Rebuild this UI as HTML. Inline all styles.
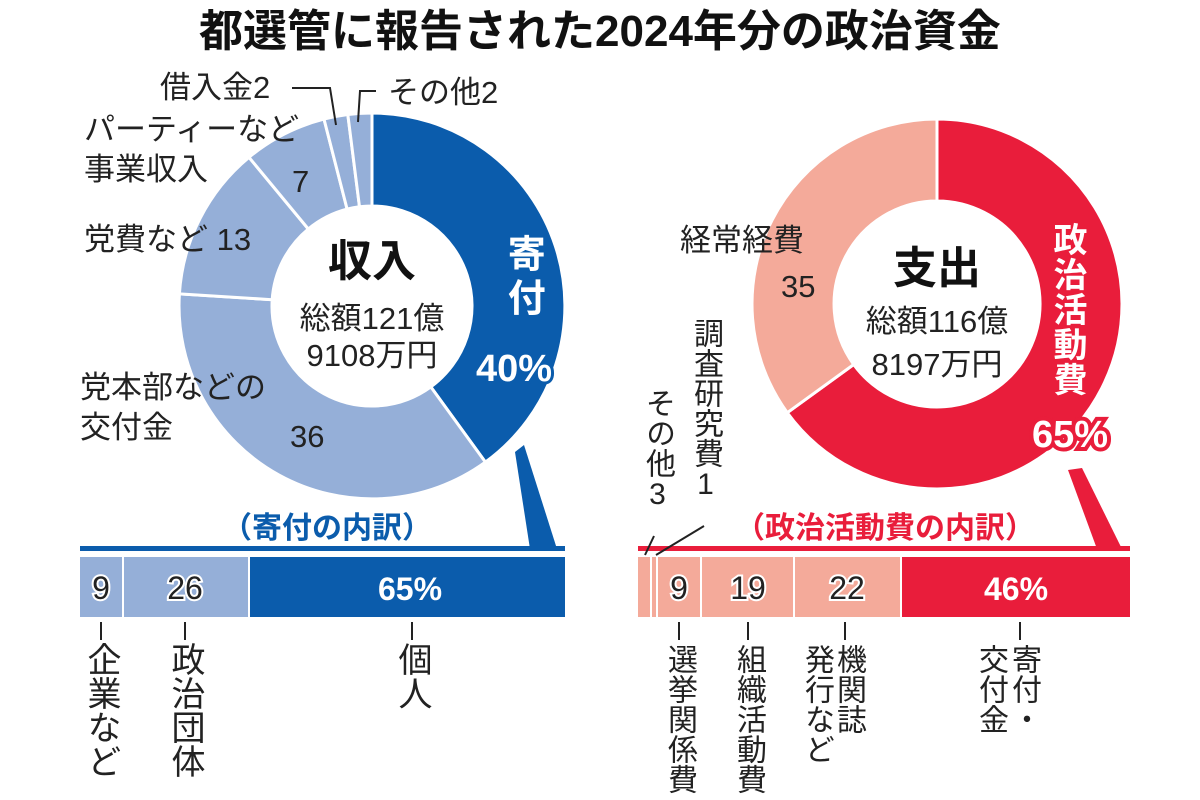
<!DOCTYPE html>
<html><head><meta charset="utf-8"><style>
html,body{margin:0;padding:0;background:#fff;}
#c{position:relative;width:1200px;height:800px;overflow:hidden;font-family:"Liberation Sans","Noto Sans CJK JP",sans-serif;color:#222;}
.v{position:absolute;writing-mode:vertical-rl;text-orientation:upright;font-size:34px;line-height:1;color:#222;white-space:nowrap;}
.r{font-size:30px;}
.vw{position:absolute;writing-mode:vertical-rl;text-orientation:upright;line-height:1;color:#fff;font-weight:bold;white-space:nowrap;}
svg{position:absolute;left:0;top:0;}
</style></head><body><div id="c">
<svg width="1200" height="800" viewBox="0 0 1200 800" font-family="Liberation Sans, Noto Sans CJK JP, sans-serif">
<text x="600" y="46" text-anchor="middle" font-size="44" font-weight="bold" fill="#111">都選管に報告された2024年分の政治資金</text>
<g stroke="#fff" stroke-width="3">
<path d="M372,113 A193,193 0 0 1 485.4,462.1 L430.8,386.9 A100,100 0 0 0 372,206 Z" fill="#0b5cac"/>
<path d="M485.4,462.1 A193,193 0 0 1 179.4,293.9 L272.2,299.7 A100,100 0 0 0 430.8,386.9 Z" fill="#95afd8"/>
<path d="M179.4,293.9 A193,193 0 0 1 249,157.3 L308.3,229 A100,100 0 0 0 272.2,299.7 Z" fill="#95afd8"/>
<path d="M249,157.3 A193,193 0 0 1 324,119.1 L347.1,209.1 A100,100 0 0 0 308.3,229 Z" fill="#95afd8"/>
<path d="M324,119.1 A193,193 0 0 1 347.8,114.5 L359.5,206.8 A100,100 0 0 0 347.1,209.1 Z" fill="#95afd8"/>
<path d="M347.8,114.5 A193,193 0 0 1 372,113 L372,206 A100,100 0 0 0 359.5,206.8 Z" fill="#95afd8"/>
</g>
<g stroke="#fff" stroke-width="3">
<path d="M937,119 A185,185 0 1 1 787.3,412.7 L853.7,364.5 A103,103 0 1 0 937,201 Z" fill="#e91d3b"/>
<path d="M787.3,412.7 A185,185 0 0 1 937,119 L937,201 A103,103 0 0 0 853.7,364.5 Z" fill="#f4aa9a"/>
</g>
<text x="372" y="276" text-anchor="middle" font-size="44" font-weight="bold" fill="#111">収入</text>
<text x="372" y="329" text-anchor="middle" font-size="31" fill="#222">総額121億</text>
<text x="372" y="366" text-anchor="middle" font-size="31" fill="#222">9108万円</text>
<text x="937" y="283" text-anchor="middle" font-size="44" font-weight="bold" fill="#111">支出</text>
<text x="937" y="332" text-anchor="middle" font-size="31" fill="#222">総額116億</text>
<text x="937" y="375" text-anchor="middle" font-size="31" fill="#222">8197万円</text>
<text x="514" y="381" text-anchor="middle" font-size="38" font-weight="bold" fill="#fff" stroke="#0b5cac" stroke-width="6" paint-order="stroke">40%</text>
<text x="1070" y="447" text-anchor="middle" font-size="38" font-weight="bold" fill="#fff" stroke="#e91d3b" stroke-width="8" paint-order="stroke">65%</text>
<g font-size="31" fill="#222">
<text x="160" y="98">借入金2</text>
<text x="388" y="103">その他2</text>
<text x="84" y="140">パーティーなど</text>
<text x="84" y="180">事業収入</text>
<text x="292" y="192">7</text>
<text x="84" y="250">党費など 13</text>
<text x="80" y="398">党本部などの</text>
<text x="80" y="438">交付金</text>
<text x="290" y="447">36</text>
<text x="680" y="251">経常経費</text>
<text x="781" y="297">35</text>
</g>
<g stroke="#222" stroke-width="2" fill="none">
<polyline points="292,88 330,88 336,125"/>
<polyline points="376,91 360,91 358,122"/>
</g>
<polygon points="515,452 524,445 557,549 530,549" fill="#0b5cac"/>
<polygon points="1068,470 1082,468 1122,549 1097,549" fill="#e91d3b"/>
<text x="327" y="538" text-anchor="middle" font-size="30" font-weight="bold" fill="#0b5cac">（寄付の内訳）</text>
<text x="885" y="538" text-anchor="middle" font-size="30" font-weight="bold" fill="#e91d3b">（政治活動費の内訳）</text>
<rect x="80" y="546" width="485" height="5" fill="#0b5cac"/>
<rect x="638" y="546" width="492" height="5" fill="#e91d3b"/>
<rect x="80" y="557" width="42" height="60" fill="#95afd8"/>
<rect x="124" y="557" width="124" height="60" fill="#95afd8"/>
<rect x="250" y="557" width="315" height="60" fill="#0b5cac"/>
<rect x="638" y="557" width="12" height="60" fill="#f4aa9a"/>
<rect x="652" y="557" width="4" height="60" fill="#f4aa9a"/>
<rect x="658" y="557" width="42" height="60" fill="#f4aa9a"/>
<rect x="702" y="557" width="91" height="60" fill="#f4aa9a"/>
<rect x="795" y="557" width="105" height="60" fill="#f4aa9a"/>
<rect x="902" y="557" width="228" height="60" fill="#e91d3b"/>
<g font-size="32" text-anchor="middle" fill="#222" stroke="#fff" stroke-width="4" paint-order="stroke">
<text x="101" y="599">9</text>
<text x="185" y="599">26</text>
<text x="679" y="599">9</text>
<text x="748" y="599">19</text>
<text x="847" y="599">22</text>
</g>
<g font-size="32" text-anchor="middle" fill="#fff" font-weight="bold">
<text x="410" y="600">65%</text>
<text x="1016" y="600">46%</text>
</g>
<g stroke="#222" stroke-width="2">
<line x1="101" y1="622" x2="101" y2="640"/>
<line x1="185" y1="622" x2="185" y2="640"/>
<line x1="412" y1="622" x2="412" y2="640"/>
<line x1="679" y1="622" x2="679" y2="640"/>
<line x1="748" y1="622" x2="748" y2="640"/>
<line x1="845" y1="622" x2="845" y2="640"/>
<line x1="1020" y1="622" x2="1020" y2="640"/>
<line x1="654" y1="536" x2="645" y2="555"/>
<line x1="704" y1="526" x2="656" y2="555"/>
</g>
</svg>
<div class="vw" style="left:495px;top:234px;font-size:38px;line-height:1.4;letter-spacing:6px;">寄付</div>
<div class="vw" style="left:1050px;top:222px;font-size:34px;letter-spacing:1px;">政治活動費</div>
<div class="v" style="left:84px;top:642px;">企業など</div>
<div class="v" style="left:168px;top:642px;">政治団体</div>
<div class="v" style="left:395px;top:642px;">個人</div>
<div class="v r" style="left:664px;top:644px;">選挙関係費</div>
<div class="v r" style="left:733px;top:644px;">組織活動費</div>
<div class="v r" style="left:833px;top:644px;">機関誌</div>
<div class="v r" style="left:801px;top:644px;">発行など</div>
<div class="v r" style="left:1008px;top:644px;">寄付・</div>
<div class="v r" style="left:975px;top:644px;">交付金</div>
<div class="v r" style="left:642px;top:388px;">その他3</div>
<div class="v r" style="left:690px;top:318px;">調査研究費1</div>
</div></body></html>
